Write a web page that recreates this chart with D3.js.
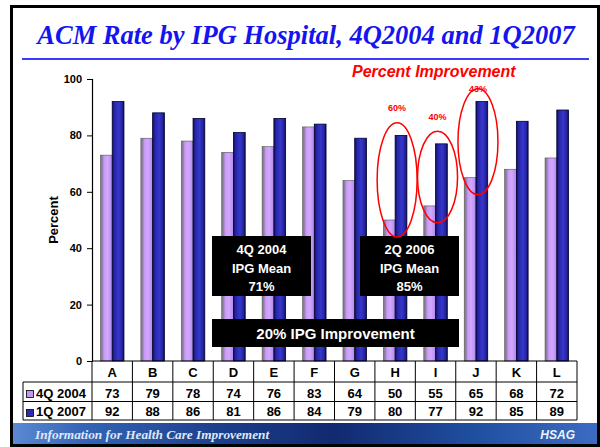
<!DOCTYPE html>
<html>
<head>
<meta charset="utf-8">
<script src="https://cdn.jsdelivr.net/npm/d3@7"></script>
<style>
  body { margin: 0; background: #fff; }
  svg { display: block; }
  .axis text { font-family: "Liberation Sans", Arial, sans-serif; font-weight: bold; font-size: 11px; fill: #000; }
  .cell { font-family: "Liberation Sans", Arial, sans-serif; font-weight: bold; font-size: 13px; fill: #000; }
</style>
</head>
<body>
<div id="chart"></div>
<script>
// Data

var hospitals = ["A", "B", "C", "D", "E", "F", "G", "H", "I", "J", "K", "L"];
var rate2004 = [73, 79, 78, 74, 76, 83, 64, 50, 55, 65, 68, 72];
var rate2007 = [92, 88, 86, 81, 86, 84, 79, 80, 77, 92, 85, 89];
var seriesNames = ["4Q 2004", "1Q 2007"];
var yTicks = [0, 20, 40, 60, 80, 100];
var improvedHospitals = ["H", "I", "J"];
var improvedLabels = ["60%", "40%", "43%"];

var width = 600;
var height = 447;
var margin = {top: 79, right: 23, bottom: 86, left: 92};

var svg = d3.select("#chart")
  .append("svg")
  .attr("width", width)
  .attr("height", height);

var defs = svg.append("defs");

function hGradient(id, stops) {
  var g = defs.append("linearGradient")
    .attr("id", id)
    .attr("x1", "0%").attr("x2", "100%")
    .attr("y1", "0%").attr("y2", "0%");
  stops.forEach(function(s) {
    g.append("stop").attr("offset", s[0]).attr("stop-color", s[1]);
  });
}

hGradient("purpleBar", [["0%", "#7a7a7a"], ["18%", "#9a80b8"], ["30%", "#c89af4"], ["60%", "#d2a8ff"], ["100%", "#b488e8"]]);
hGradient("blueBar", [["0%", "#10105a"], ["20%", "#2626a8"], ["55%", "#3636cc"], ["85%", "#2424a0"], ["100%", "#0a0a40"]]);
hGradient("banner", [["0%", "#5b8ad2"], ["12%", "#3464b6"], ["35%", "#1c3f8c"], ["55%", "#112a70"], ["78%", "#1f4d9e"], ["100%", "#3c6cc2"]]);

// Slide frame

svg.append("rect")
  .attr("x", 10).attr("y", 5)
  .attr("width", width - 10).attr("height", height - 5)
  .attr("fill", "#000");

svg.append("rect")
  .attr("x", 13).attr("y", 8)
  .attr("width", width - 16).attr("height", height - 11)
  .attr("fill", "#fff");

// Title

svg.append("text")
  .attr("x", 306)
  .attr("y", 44)
  .attr("text-anchor", "middle")
  .attr("font-family", "'Liberation Serif', 'Times New Roman', serif")
  .attr("font-style", "italic")
  .attr("font-weight", "bold")
  .attr("font-size", "26.5px")
  .attr("fill", "#1414f0")
  .text("ACM Rate by IPG Hospital, 4Q2004 and 1Q2007");

svg.append("line")
  .attr("x1", 22).attr("x2", 589)
  .attr("y1", 59).attr("y2", 59)
  .attr("stroke", "#3a3aff")
  .attr("stroke-width", 2);

// Scales

var xScale = d3.scaleBand()
  .domain(hospitals)
  .range([margin.left, width - margin.right]);

var xScale1 = d3.scaleBand()
  .domain(seriesNames)
  .range([0, xScale.bandwidth()])
  .paddingOuter(0.72)
  .paddingInner(0);

var yScale = d3.scaleLinear()
  .domain([0, 100])
  .range([height - margin.bottom, margin.top]);

var y0 = yScale(0);

// Axis

var yAxis = svg.append("g")
  .attr("class", "axis")
  .attr("transform", `translate(${margin.left}, 0)`)
  .call(d3.axisLeft(yScale).tickValues(yTicks).tickSize(5).tickPadding(5));

yAxis.select(".domain").attr("stroke", "#000").attr("stroke-width", 1.2);
yAxis.selectAll(".tick line").attr("stroke", "#000");

svg.append("text")
  .attr("transform", "rotate(-90)")
  .attr("x", -(yScale(50)))
  .attr("y", 58)
  .attr("text-anchor", "middle")
  .attr("font-family", "'Liberation Sans', Arial, sans-serif")
  .attr("font-weight", "bold")
  .attr("font-size", "13px")
  .text("Percent");

// Bars

var rows = hospitals.map(function(h, i) {
  return {hospital: h, a: rate2004[i], b: rate2007[i]};
});

var groups = svg.selectAll(".hospital")
  .data(rows)
  .enter().append("g")
  .attr("class", "hospital")
  .attr("transform", d => `translate(${xScale(d.hospital)}, 0)`);

groups.append("rect")
  .attr("x", xScale1(seriesNames[0]))
  .attr("y", d => yScale(d.a))
  .attr("width", xScale1.bandwidth())
  .attr("height", d => y0 - yScale(d.a))
  .attr("fill", "url(#purpleBar)")
  .attr("stroke", "#555")
  .attr("stroke-width", 0.6);

groups.append("rect")
  .attr("x", xScale1(seriesNames[1]))
  .attr("y", d => yScale(d.b))
  .attr("width", xScale1.bandwidth())
  .attr("height", d => y0 - yScale(d.b))
  .attr("fill", "url(#blueBar)")
  .attr("stroke", "#000030")
  .attr("stroke-width", 0.8);

// Data table under the axis

var rowTop = [y0, 382, 401.5, 420];
var tableLeft = 23;
var tableRight = width - margin.right;

var table = svg.append("g").attr("class", "table");

table.append("line")
  .attr("x1", margin.left).attr("x2", tableRight)
  .attr("y1", rowTop[0]).attr("y2", rowTop[0])
  .attr("stroke", "#000").attr("stroke-width", 1.2);

[1, 2, 3].forEach(function(r) {
  table.append("line")
    .attr("x1", tableLeft).attr("x2", tableRight)
    .attr("y1", rowTop[r]).attr("y2", rowTop[r])
    .attr("stroke", "#000");
});

table.append("line")
  .attr("x1", tableLeft).attr("x2", tableLeft)
  .attr("y1", rowTop[1]).attr("y2", rowTop[3])
  .attr("stroke", "#000");

hospitals.concat(["end"]).forEach(function(h) {
  var x = h === "end" ? tableRight : xScale(h);
  table.append("line")
    .attr("x1", x).attr("x2", x)
    .attr("y1", rowTop[0]).attr("y2", rowTop[3])
    .attr("stroke", "#000");
});

table.selectAll(".head")
  .data(hospitals)
  .enter().append("text")
  .attr("class", "cell")
  .attr("x", d => xScale(d) + xScale.bandwidth() / 2)
  .attr("y", 377)
  .attr("text-anchor", "middle")
  .text(d => d);

[rate2004, rate2007].forEach(function(vals, r) {
  table.selectAll(".val" + r)
    .data(vals)
    .enter().append("text")
    .attr("class", "cell")
    .attr("x", (d, i) => xScale(hospitals[i]) + xScale.bandwidth() / 2)
    .attr("y", r === 0 ? 397.5 : 416)
    .attr("text-anchor", "middle")
    .text(d => d);

  table.append("rect")
    .attr("x", 26.5)
    .attr("y", r === 0 ? 390.5 : 409.5)
    .attr("width", 7)
    .attr("height", 7)
    .attr("fill", r === 0 ? "#c396f4" : "#2a2ab4")
    .attr("stroke", "#000")
    .attr("stroke-width", 0.8);

  table.append("text")
    .attr("class", "cell")
    .attr("x", 36)
    .attr("y", r === 0 ? 397.5 : 416)
    .text(seriesNames[r]);
});

// Mean boxes

function blackBox(x, y, w, h, lines, size, lineGap, firstBase) {
  svg.append("rect")
    .attr("x", x).attr("y", y)
    .attr("width", w).attr("height", h)
    .attr("fill", "#000");
  lines.forEach(function(t, i) {
    svg.append("text")
      .attr("x", x + w / 2)
      .attr("y", y + firstBase + i * lineGap)
      .attr("text-anchor", "middle")
      .attr("font-family", "'Liberation Sans', Arial, sans-serif")
      .attr("font-weight", "bold")
      .attr("font-size", size)
      .attr("fill", "#fff")
      .text(t);
  });
}

blackBox(212, 236, 99, 60, ["4Q 2004", "IPG Mean", "71%"], "13px", 18.5, 18);
blackBox(360, 236, 99, 60, ["2Q 2006", "IPG Mean", "85%"], "13px", 18.5, 18);
blackBox(212, 319, 247, 28, ["20% IPG Improvement"], "15px", 0, 20);

// Percent improvement annotations

svg.append("text")
  .attr("x", 352)
  .attr("y", 77)
  .attr("font-family", "'Liberation Sans', Arial, sans-serif")
  .attr("font-style", "italic")
  .attr("font-weight", "bold")
  .attr("font-size", "16px")
  .attr("fill", "#ff0000")
  .text("Percent Improvement");

improvedHospitals.forEach(function(h, k) {
  var i = hospitals.indexOf(h);
  var top = yScale(rate2007[i] + 4.5);
  var bottom = yScale(rate2004[i] - 6);
  var cx = xScale(h) + xScale.bandwidth() / 2 + 2;

  svg.append("ellipse")
    .attr("cx", cx)
    .attr("cy", (top + bottom) / 2)
    .attr("rx", 20)
    .attr("ry", (bottom - top) / 2)
    .attr("fill", "none")
    .attr("stroke", "#ff0000")
    .attr("stroke-width", 1.5);

  // label sits above the ellipse but below the red heading
  svg.append("text")
    .attr("x", cx)
    .attr("y", Math.max(yScale(rate2007[i] + 8.5), yScale(95.5)))
    .attr("text-anchor", "middle")
    .attr("font-family", "'Liberation Sans', Arial, sans-serif")
    .attr("font-weight", "bold")
    .attr("font-size", "9px")
    .attr("fill", "#ff0000")
    .text(improvedLabels[k]);
});

// Footer banner

svg.append("rect")
  .attr("x", 13).attr("y", 423)
  .attr("width", width - 16).attr("height", 21)
  .attr("fill", "url(#banner)");

svg.append("text")
  .attr("x", 35)
  .attr("y", 439)
  .attr("font-family", "'Liberation Serif', 'Times New Roman', serif")
  .attr("font-style", "italic")
  .attr("font-weight", "bold")
  .attr("font-size", "13.3px")
  .attr("fill", "#dfe8f8")
  .text("Information for Health Care Improvement");

svg.append("text")
  .attr("x", 575)
  .attr("y", 439)
  .attr("text-anchor", "end")
  .attr("font-family", "'Liberation Sans', Arial, sans-serif")
  .attr("font-style", "italic")
  .attr("font-weight", "bold")
  .attr("font-size", "12px")
  .attr("fill", "#eef2fa")
  .text("HSAG");
</script>
</body>
</html>
